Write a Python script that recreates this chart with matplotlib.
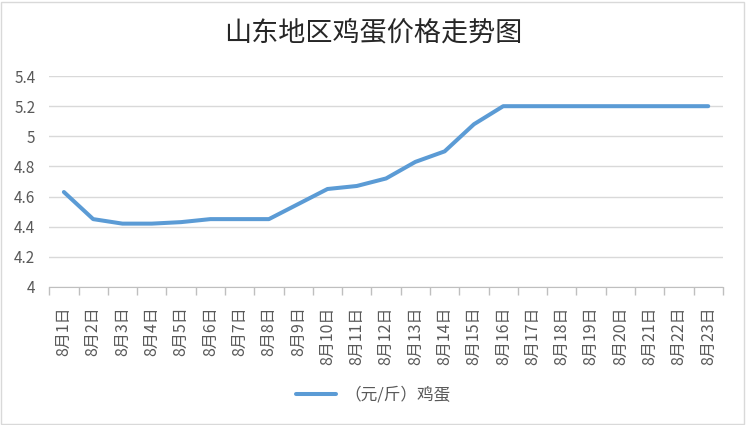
"""山东地区鸡蛋价格走势图 — line chart recreation."""

import matplotlib.pyplot as plt
from matplotlib.patches import Rectangle

plt.rcParams["font.family"] = ["Noto Sans CJK SC", "DejaVu Sans"]

# ── data ────────────────────────────────────────────────────────────────
dates = [f"8月{d}日" for d in range(1, 24)]
prices = [4.63, 4.45, 4.42, 4.42, 4.43, 4.45, 4.45, 4.45, 4.55, 4.65,
          4.67, 4.72, 4.83, 4.90, 5.08, 5.20, 5.20, 5.20, 5.20, 5.20,
          5.20, 5.20, 5.20]
y_ticks = [4, 4.2, 4.4, 4.6, 4.8, 5, 5.2, 5.4]
y_labels = ["4", "4.2", "4.4", "4.6", "4.8", "5", "5.2", "5.4"]
series_name = "（元/斤）鸡蛋"
title = "山东地区鸡蛋价格走势图"

LINE = "#5B9BD5"
GRID = "#D9D9D9"
TXT = "#595959"

fig = plt.figure(figsize=(7.46, 4.25), dpi=100)
fig.patch.set_facecolor("white")
ax = fig.add_axes([0.066, 0.325, 0.903, 0.496])

x = list(range(len(dates)))
ax.plot(x, prices, color=LINE, linewidth=2.9, solid_capstyle="round",
        solid_joinstyle="round", label=series_name, zorder=3)

ax.set_xlim(-0.5, len(dates) - 0.5)
ax.set_ylim(4, 5.4)
ax.set_yticks(y_ticks)
ax.set_yticklabels(y_labels)
ax.yaxis.grid(True, color=GRID, linewidth=1)
ax.set_axisbelow(True)

ax.set_xticks(x)
ax.set_xticklabels(dates, rotation=90, fontsize=11.5, color=TXT)
ax.set_xticks([i - 0.5 for i in range(len(dates) + 1)], minor=True)
ax.tick_params(axis="x", which="major", length=0, pad=14)
ax.tick_params(axis="x", which="minor", length=6, color="#BFBFBF", width=1)
ax.tick_params(axis="y", length=0, labelsize=11, labelcolor=TXT, pad=10)

for side in ("top", "right", "left"):
    ax.spines[side].set_visible(False)
ax.spines["bottom"].set_color("#BFBFBF")

fig.text(0.5, 0.922, title, ha="center", va="center", fontsize=19.5,
         color="#262626")

leg = fig.legend(loc="center", bbox_to_anchor=(0.5, 0.07), frameon=False,
                 fontsize=12, handlelength=2.4, handletextpad=0.5)
for t in leg.get_texts():
    t.set_color(TXT)

# light chart border
fig.patches.append(Rectangle((0.002, 0.003), 0.995, 0.993,
                             transform=fig.transFigure, fill=False,
                             edgecolor="#D9D9D9", linewidth=1))

fig.savefig("out.png", dpi=100, facecolor="white")
